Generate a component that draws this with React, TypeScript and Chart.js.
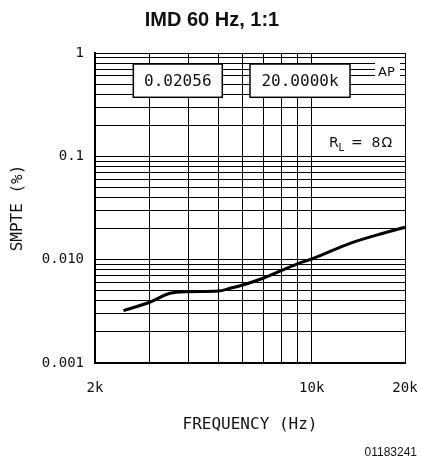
import React, { useEffect, useRef } from 'react';
import { Chart, registerables } from 'chart.js';

Chart.register(...registerables);

// ---- data ----
const frequencies = [2470, 3000, 3490, 4000, 5000, 5450, 6000, 7000, 8000, 9000, 10000, 13300, 17000, 20000];
const smptePercent = [0.00321, 0.00387, 0.00473, 0.0049, 0.00497, 0.00528, 0.00569, 0.00665, 0.00789, 0.00912, 0.01015, 0.0144, 0.018, 0.02056];

const xGridValues = [2000, 3000, 4000, 5000, 6000, 7000, 8000, 9000, 10000, 20000];
const xTickLabels: Record<number, string> = { 2000: '2k', 10000: '10k', 20000: '20k' };
const yDecades = [0.001, 0.01, 0.1];
const yMultipliers = [1, 2, 3, 4, 5, 6, 7, 8, 9];
const yTickLabelValues = [0.001, 0.01, 0.1, 1];
const yTickLabelTexts = ['0.001', '0.010', '0.1', '1'];

const titleText = 'IMD 60 Hz, 1:1';
const xTitle = 'FREQUENCY (Hz)';
const yTitle = 'SMPTE (%)';
const readoutValue = '0.02056';
const readoutFreq = '20.0000k';
const apLabel = 'AP';
const footerText = '01183241';

const yGridValues: number[] = [];
yDecades.forEach((d) => yMultipliers.forEach((m) => yGridValues.push(+(m * d).toPrecision(6))));
yGridValues.push(1);

const MONO = "'DejaVu Sans Mono', monospace";
const SANS = "'DejaVu Sans', sans-serif";

const overlayPlugin = {
  id: 'overlay',
  beforeDatasetsDraw(chart: any) {
    const { ctx, chartArea: a } = chart;
    ctx.save();
    const boxes = [
      { x0: 38.3, x1: 127.3, y0: 11, y1: 44.3, text: readoutValue },
      { x0: 155, x1: 255, y0: 11, y1: 44.3, text: readoutFreq },
    ];
    boxes.forEach((b) => {
      const x = a.left + b.x0;
      const y = a.top + b.y0;
      const w = b.x1 - b.x0;
      const h = b.y1 - b.y0;
      ctx.fillStyle = '#fff';
      ctx.fillRect(x, y, w, h);
      ctx.strokeStyle = '#000';
      ctx.lineWidth = 1.5;
      ctx.strokeRect(x, y, w, h);
      ctx.fillStyle = '#111';
      ctx.font = `16px ${MONO}`;
      ctx.textAlign = 'center';
      ctx.textBaseline = 'middle';
      ctx.fillText(b.text, x + w / 2, y + h / 2 + 1);
    });
    // AP label area
    ctx.fillStyle = '#fff';
    ctx.fillRect(a.left + 280, a.top + 7, 25, 20);
    ctx.fillStyle = '#111';
    ctx.font = `13px ${SANS}`;
    ctx.textAlign = 'left';
    ctx.textBaseline = 'middle';
    ctx.fillText(apLabel, a.left + 283, a.top + 19.5);
    // R_L = 8 Ohm
    ctx.textBaseline = 'alphabetic';
    ctx.font = `14px ${SANS}`;
    ctx.fillText('R', a.left + 234, a.top + 94);
    ctx.font = `10px ${SANS}`;
    ctx.fillText('L', a.left + 243.5, a.top + 97.5);
    ctx.font = `14px ${SANS}`;
    ctx.fillText('=', a.left + 256, a.top + 94);
    ctx.fillText('8', a.left + 276.5, a.top + 94);
    ctx.fillText('\u03A9', a.left + 286.5, a.top + 94);
    ctx.restore();
  },
  afterDraw(chart: any) {
    const { ctx } = chart;
    ctx.save();
    ctx.fillStyle = '#111';
    ctx.font = "12px 'Liberation Sans', Arial, sans-serif";
    ctx.textAlign = 'right';
    ctx.textBaseline = 'middle';
    ctx.fillText(footerText, 417, 452.5);
    ctx.restore();
  },
};

export default function App() {
  const canvasRef = useRef<HTMLCanvasElement | null>(null);

  useEffect(() => {
    if (!canvasRef.current) return;
    const chart = new Chart(canvasRef.current, {
      type: 'line',
      data: {
        datasets: [
          {
            data: frequencies.map((f, i) => ({ x: f, y: smptePercent[i] })),
            borderColor: '#000',
            borderWidth: 3,
            pointRadius: 0,
            fill: false,
            cubicInterpolationMode: 'monotone',
          },
        ],
      },
      options: {
        animation: false,
        responsive: true,
        maintainAspectRatio: false,
        layout: { padding: { left: 19, right: 16, top: 0, bottom: 0 } },
        plugins: {
          legend: { display: false },
          tooltip: { enabled: false },
          title: {
            display: true,
            text: titleText,
            color: '#111',
            font: { family: "'Liberation Sans', Arial, sans-serif", size: 20, weight: 'bold' },
            padding: { top: 8, bottom: 21 },
          },
        },
        scales: {
          x: {
            type: 'logarithmic',
            min: 2000,
            max: 20000,
            afterBuildTicks: (scale: any) => {
              scale.ticks = xGridValues.map((v) => ({ value: v }));
            },
            afterFit: (scale: any) => {
              scale.height = 99;
            },
            ticks: {
              autoSkip: false,
              maxRotation: 0,
              padding: 1,
              color: '#111',
              font: { family: MONO, size: 14 },
              callback: (value: any) => xTickLabels[Math.round(Number(value))] ?? '',
            },
            grid: { color: '#000', lineWidth: 1, drawTicks: true, tickLength: 16, tickColor: 'rgba(0,0,0,0)' },
            border: { display: true, color: '#000', width: 2 },
            title: {
              display: true,
              text: xTitle,
              color: '#111',
              font: { family: MONO, size: 16 },
              padding: { top: 0, bottom: 27.4 },
            },
          },
          y: {
            type: 'logarithmic',
            min: 0.001,
            max: 1,
            afterBuildTicks: (scale: any) => {
              scale.ticks = yGridValues.map((v) => ({ value: v }));
            },
            afterFit: (scale: any) => {
              scale.width = 76;
            },
            ticks: {
              autoSkip: false,
              padding: 11,
              color: '#111',
              font: { family: MONO, size: 14 },
              callback: (value: any) => {
                const v = Number(value);
                const idx = yTickLabelValues.findIndex((t) => Math.abs(Math.log10(v) - Math.log10(t)) < 1e-6);
                return idx >= 0 ? yTickLabelTexts[idx] : '';
              },
            },
            grid: { color: '#000', lineWidth: 1, drawTicks: false },
            border: { display: true, color: '#000', width: 2 },
            title: {
              display: true,
              text: yTitle,
              color: '#111',
              font: { family: MONO, size: 16 },
              padding: { top: -10.6, bottom: 0 },
            },
          },
        },
      },
      plugins: [overlayPlugin],
    } as any);
    return () => chart.destroy();
  }, []);

  return (
    <div style={{ position: 'fixed', left: 0, top: 0, width: 421, height: 462, background: '#fff' }}>
      <canvas ref={canvasRef} />
    </div>
  );
}
